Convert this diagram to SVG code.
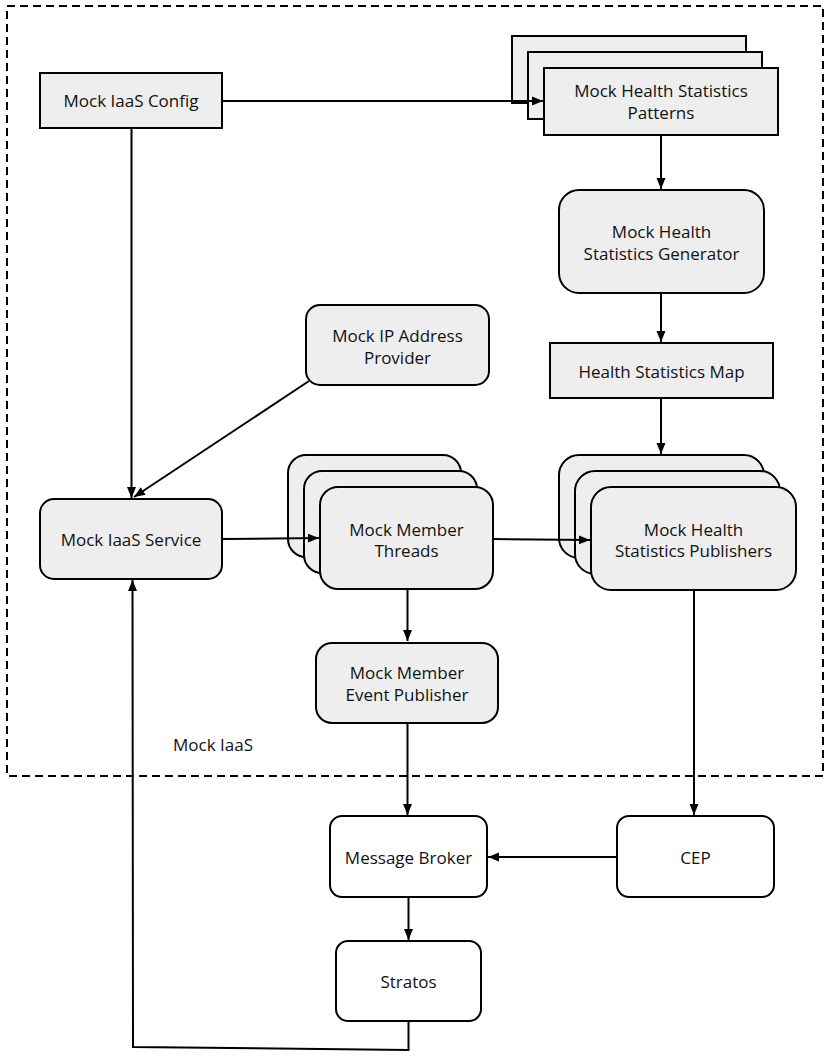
<svg xmlns="http://www.w3.org/2000/svg" width="839" height="1061" viewBox="0 0 839 1061">
<defs>
<marker id="arr" markerUnits="userSpaceOnUse" markerWidth="12" markerHeight="10" refX="11" refY="5" orient="auto">
<path d="M0,0.5 L11,5 L0,9.5 z" fill="#000"/>
</marker>
<style>
.n{fill:#eeeeee;stroke:#000;stroke-width:2}
.w{fill:#ffffff;stroke:#000;stroke-width:2}
.t{font-family:"Open Sans","Noto Sans",sans-serif;font-size:17px;fill:#111;text-anchor:middle}
.c{fill:none;stroke:#000;stroke-width:2}
.a{marker-end:url(#arr)}
</style>
</defs>
<rect width="839" height="1061" fill="#fff"/>
<g id="mock-iaas-boundary">
<rect x="7" y="6" width="816" height="770" fill="none" stroke="#000" stroke-width="2" stroke-dasharray="8,5"/>
<text class="t" x="213" y="751">Mock IaaS</text>
</g>
<g id="mock-iaas-config">
<rect class="n" x="40" y="73" width="182" height="55"/>
<text class="t" x="131" y="107">Mock IaaS Config</text>
</g>
<g id="mock-health-statistics-patterns">
<rect class="n" x="512" y="36" width="234" height="67"/>
<rect class="n" x="528" y="52" width="234" height="67"/>
<rect class="n" x="544" y="68" width="234" height="67"/>
<text class="t" x="661" y="97">Mock Health Statistics</text>
<text class="t" x="661" y="119">Patterns</text>
</g>
<g id="mock-health-statistics-generator">
<rect class="n" x="559" y="190" width="205" height="103" rx="20"/>
<text class="t" x="661.5" y="238">Mock Health</text>
<text class="t" x="661.5" y="260">Statistics Generator</text>
</g>
<g id="mock-ip-address-provider">
<rect class="n" x="306" y="305" width="183" height="80" rx="14"/>
<text class="t" x="397.5" y="342">Mock IP Address</text>
<text class="t" x="397.5" y="364">Provider</text>
</g>
<g id="health-statistics-map">
<rect class="n" x="550" y="343" width="223" height="55"/>
<text class="t" x="661.5" y="378">Health Statistics Map</text>
</g>
<g id="mock-iaas-service">
<rect class="n" x="40" y="499" width="182" height="80" rx="14"/>
<text class="t" x="131" y="546">Mock IaaS Service</text>
</g>
<g id="mock-member-threads">
<rect class="n" x="288" y="455" width="173" height="102" rx="18"/>
<rect class="n" x="304" y="471" width="173" height="102" rx="18"/>
<rect class="n" x="320" y="487" width="173" height="102" rx="18"/>
<text class="t" x="406.5" y="536">Mock Member</text>
<text class="t" x="406.5" y="557">Threads</text>
</g>
<g id="mock-health-statistics-publishers">
<rect class="n" x="559" y="455" width="205" height="103" rx="20"/>
<rect class="n" x="575" y="471" width="205" height="103" rx="20"/>
<rect class="n" x="591" y="487" width="205" height="103" rx="20"/>
<text class="t" x="693.5" y="536">Mock Health</text>
<text class="t" x="693.5" y="557">Statistics Publishers</text>
</g>
<g id="mock-member-event-publisher">
<rect class="n" x="316" y="643" width="182" height="80" rx="16"/>
<text class="t" x="407" y="679">Mock Member</text>
<text class="t" x="407" y="701">Event Publisher</text>
</g>
<g id="message-broker">
<rect class="w" x="330" y="816" width="157" height="81" rx="12"/>
<text class="t" x="408.5" y="864">Message Broker</text>
</g>
<g id="cep">
<rect class="w" x="617" y="816" width="157" height="81" rx="12"/>
<text class="t" x="695.5" y="864">CEP</text>
</g>
<g id="stratos">
<rect class="w" x="336" y="941" width="145" height="80" rx="12"/>
<text class="t" x="408.5" y="988">Stratos</text>
</g>
<g id="connectors">
<path class="c a" d="M222,101 H543"/>
<path class="c a" d="M131.5,128 V498"/>
<path class="c a" d="M309,381 L134,497"/>
<path class="c a" d="M661,135 V189"/>
<path class="c a" d="M661,293 V342"/>
<path class="c a" d="M661,398 V454"/>
<path class="c a" d="M222,539 L319,538"/>
<path class="c a" d="M493,539 L590,540"/>
<path class="c a" d="M407.5,589 V641"/>
<path class="c a" d="M407.5,723 V815"/>
<path class="c a" d="M694,590 V815"/>
<path class="c a" d="M617,857 H488"/>
<path class="c a" d="M408.5,897 V940"/>
<path class="c a" d="M408.5,1021 V1050 L133,1047 L132.5,580"/>
</g>
</svg>
